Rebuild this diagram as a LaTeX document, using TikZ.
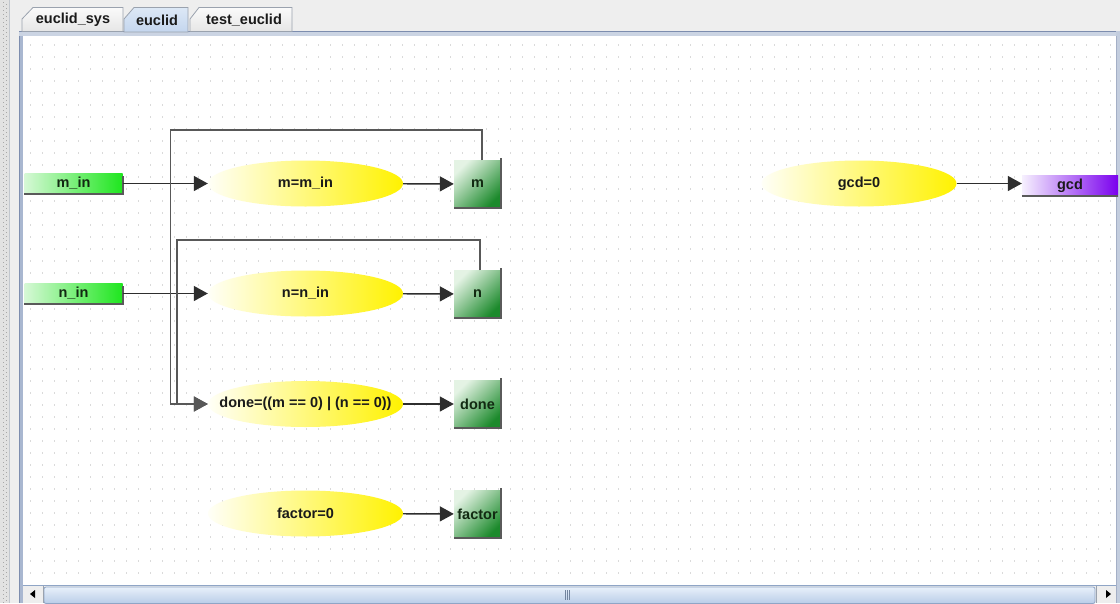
\documentclass[tikz,border=0pt]{standalone}
\usepackage{fontspec}
\setmainfont{Liberation Sans}
\usetikzlibrary{arrows.meta,shapes.geometric}

\definecolor{chromeC}{HTML}{EEEEEE}
\definecolor{stripC}{HTML}{E2E2E2}
\definecolor{stripDot}{HTML}{A8A8A8}
\definecolor{frameC}{HTML}{A9B7D0}
\definecolor{frameDark}{HTML}{7D8DAE}
\definecolor{gridC}{HTML}{DADADA}
\definecolor{wireC}{HTML}{2E2E2E}
\definecolor{textC}{HTML}{1A1A1A}
\definecolor{regLight}{HTML}{E4F3E4}
\definecolor{regDark}{HTML}{1C8A2C}
\definecolor{regText}{HTML}{122A12}
\definecolor{inLight}{HTML}{D6F8D6}
\definecolor{inGreen}{HTML}{1EE61E}
\definecolor{outLight}{HTML}{F6F0FE}
\definecolor{outPurple}{HTML}{7A00EE}
\definecolor{calcYellow}{HTML}{FFF200}
\definecolor{tabBorder}{HTML}{9AA2AE}
\definecolor{tabTop}{HTML}{FAFAFA}
\definecolor{tabBottom}{HTML}{E6E6E6}
\definecolor{tabSelTop}{HTML}{DCE8F6}
\definecolor{tabSelBottom}{HTML}{C4D6EE}
\definecolor{barTop}{HTML}{E8F0FA}
\definecolor{barBottom}{HTML}{B9CDE8}
\definecolor{barEdge}{HTML}{8FA5C6}
\definecolor{shadowC}{HTML}{5A5A5A}

\newcommand{\lblfont}{\fontsize{14.5}{16}\selectfont\bfseries}

\begin{document}
\begin{tikzpicture}[x=1pt,y=-1pt,
  calcnode/.style={ellipse, minimum width=195pt, minimum height=46pt,
    inner xsep=-25pt, inner ysep=0pt,
    left color=yellow!3!white, right color=calcYellow, text=textC, font=\lblfont},
  regnode/.style={rectangle, minimum width=47pt, minimum height=47pt, inner sep=0pt,
    top color=regLight, bottom color=regDark, shading angle=45, text=regText, font=\lblfont},
  innode/.style={rectangle, minimum width=98pt, minimum height=21pt, inner sep=0pt,
    left color=inLight, right color=inGreen, text=regText, font=\lblfont},
  outnode/.style={rectangle, minimum width=96pt, minimum height=21pt, inner sep=0pt,
    left color=outLight, right color=outPurple, text=textC, font=\lblfont},
  edgeshadow/.style={draw=shadowC, line width=1.6pt},
  wire/.style={draw=wireC, line width=1.4pt, -{Triangle[length=14pt,width=15pt]}},
  loopwire/.style={draw=wireC!80!white, line width=1.4pt, -{Triangle[length=14pt,width=15pt]}},
  gridrow/.style={draw=gridC, line width=1.4pt, dash pattern=on 1.4pt off 10.6pt},
  tabshape/.style={draw=tabBorder, line width=0.8pt, top color=tabTop, bottom color=tabBottom},
  tabsel/.style={draw=tabBorder, line width=0.8pt, top color=tabSelTop, bottom color=tabSelBottom},
  tablabel/.style={text=textC, font=\lblfont, inner sep=0pt},
]
\useasboundingbox (0,0) rectangle (1120,603);

% window chrome
\fill[chromeC] (0,0) rectangle (1120,603);
\fill[stripC] (0,0) rectangle (9,603);
\foreach \yy in {2,6,...,602} {
  \fill[stripDot] (2.5,\yy) rectangle (3.7,\yy+1.2);
  \fill[stripDot] (5.5,\yy+2) rectangle (6.7,\yy+3.2);
}
\draw[tabBorder!60!white, line width=0.8pt] (9.5,0) -- (9.5,603);

% drawing area
\fill[white] (22,36) rectangle (1117,585);
\foreach \yy in {45,57,...,577}
  \draw[gridrow] (30,\yy) -- (1114,\yy);
\fill[frameC] (19,31) rectangle (23,603);
\draw[frameDark, line width=0.8pt] (19,31) -- (19,603);
\fill[frameC!60!white] (19,31) rectangle (1120,36);
\draw[frameDark, line width=0.8pt] (19,31.5) -- (1120,31.5);
\fill[frameC!70!white] (1116,31) rectangle (1120,603);
\draw[frameDark!70!white, line width=0.8pt] (1116,36) -- (1116,603);

% tabs
\path[tabshape] (22,31.5) -- (22,19) -- (33,7.5) -- (123,7.5) -- (123,31.5) -- cycle;
\path[tabshape] (190,31.5) -- (190,19) -- (199,7.5) -- (292,7.5) -- (292,31.5) -- cycle;
\path[tabsel] (124,32) -- (124,19) -- (134,7.5) -- (188,7.5) -- (188,32) -- cycle;
\node[tablabel] (tsys) at (73,20) {euclid\_sys};
\node[tablabel] (teu) at (157,20) {euclid};
\node[tablabel] (ttest) at (244,20) {test\_euclid};

% scroll bar
\fill[chromeC] (23,585) rectangle (1116,603);
\draw[barEdge, line width=0.8pt] (23,585.5) -- (1116,585.5);
\draw[barEdge, top color=barTop, bottom color=barBottom, line width=0.8pt, rounded corners=2pt]
  (44,587) rectangle (1095,603.5);
\draw[barEdge!80!black, line width=0.7pt] (565.5,590) -- (565.5,600) (567.5,590) -- (567.5,600) (569.5,590) -- (569.5,600);
\fill[black] (30,594) -- (35,590) -- (35,598) -- cycle;
\fill[black] (1111,594) -- (1106,590) -- (1106,598) -- cycle;
\draw[tabBorder, line width=0.6pt] (43,586) -- (43,603) (1096,586) -- (1096,603);

% inputs
\node[innode] (min) at (73.5,183.5) {m\_in};
\node[innode] (nin) at (73.5,293.5) {n\_in};
\draw[edgeshadow] (min.south west) -- (min.south east) -- ([yshift=-3pt]min.north east);
\draw[edgeshadow] (nin.south west) -- (nin.south east) -- ([yshift=-3pt]nin.north east);

% assignments
\node[calcnode] (mcalc) at (305.5,183.5) {m=m\_in};
\node[calcnode] (ncalc) at (305.5,293.5) {n=n\_in};
\node[calcnode] (dcalc) at (305.5,404) {done=((m == 0) | (n == 0))};
\node[calcnode] (fcalc) at (305.5,513.5) {factor=0};
\node[calcnode] (gcalc) at (859,183.5) {gcd=0};

% registers
\node[regnode] (mreg) at (477.5,184) {m};
\node[regnode] (nreg) at (477.5,294) {n};
\node[regnode] (dreg) at (477.5,404) {done};
\node[regnode] (freg) at (477.5,514) {factor};
\foreach \r in {mreg,nreg,dreg,freg}
  \draw[edgeshadow] ([yshift=2pt]\r.north east) -- (\r.south east) -- (\r.south west);

% output
\node[outnode] (gout) at (1070,185.5) {gcd};
\draw[edgeshadow] (gout.south west) -- (gout.south east);

% feedback loop anchors
\coordinate (mtop) at (170.5,130);
\coordinate (ntop) at (177,240);

% connections
\draw[wire] (min) -- (mcalc);
\draw[wire] (nin) -- (ncalc);
\draw[wire] (mcalc) -- (mreg);
\draw[wire] (ncalc) -- (nreg);
\draw[wire] (dcalc) -- (dreg);
\draw[wire] (fcalc) -- (freg);
\draw[wire] (gcalc.east) -- (gcalc.east -| gout.west);
\draw[loopwire] ([xshift=4.5pt]mreg.north) |- (mtop) |- (dcalc.west);
\draw[loopwire] ([xshift=2.5pt]nreg.north) |- (ntop) |- (dcalc.west);
\end{tikzpicture}
\end{document}
